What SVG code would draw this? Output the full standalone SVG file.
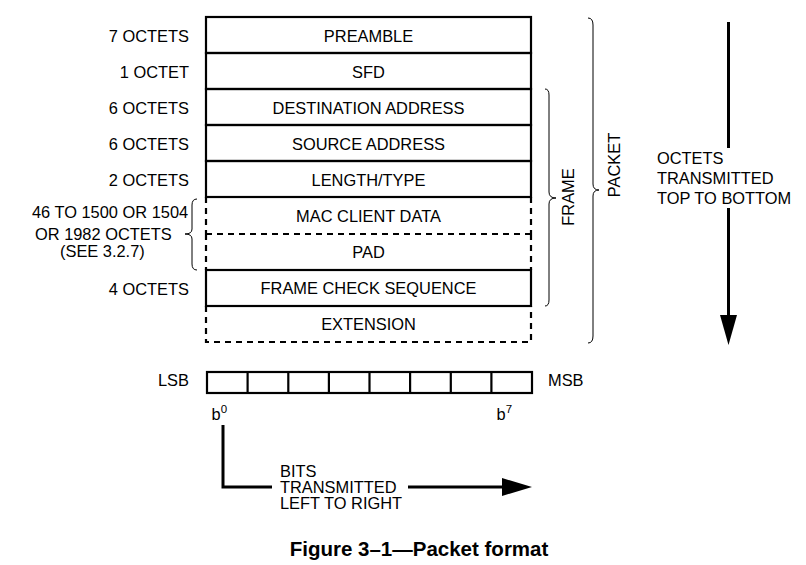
<svg xmlns="http://www.w3.org/2000/svg" width="806" height="565" viewBox="0 0 806 565">
<style>
text{font-family:"Liberation Sans",Arial,sans-serif;font-size:16.4px;fill:#000}
.c{text-anchor:middle}
.r{text-anchor:end}
.box{fill:none;stroke:#000;stroke-width:2.2}
.dash{fill:none;stroke:#000;stroke-width:2.2;stroke-dasharray:6 5}
.brace{fill:none;stroke:#000;stroke-width:1}
.arr{fill:none;stroke:#000;stroke-width:3}
.cap{font-weight:bold;font-size:20.5px}
</style>
<rect width="806" height="565" fill="#fff"/>
<g id="fields">
  <g id="preamble"><rect class="box" x="206" y="17" width="325" height="36"/><text class="c" x="368.5" y="42">PREAMBLE</text></g>
  <g id="sfd"><rect class="box" x="206" y="53" width="325" height="36"/><text class="c" x="368.5" y="78">SFD</text></g>
  <g id="dest"><rect class="box" x="206" y="89" width="325" height="36"/><text class="c" x="368.5" y="114">DESTINATION ADDRESS</text></g>
  <g id="src"><rect class="box" x="206" y="125" width="325" height="36"/><text class="c" x="368.5" y="150">SOURCE ADDRESS</text></g>
  <g id="lentype"><rect class="box" x="206" y="161" width="325" height="36"/><text class="c" x="368.5" y="186">LENGTH/TYPE</text></g>
  <g id="macdata"><path class="dash" d="M206,197 V234 M531,197 V234 M206,234 H531"/><text class="c" x="368.5" y="222">MAC CLIENT DATA</text></g>
  <g id="pad"><path class="dash" d="M206,234 V270 M531,234 V270"/><text class="c" x="368.5" y="258">PAD</text></g>
  <g id="fcs"><rect class="box" x="206" y="270" width="325" height="36"/><text class="c" x="368.5" y="294">FRAME CHECK SEQUENCE</text></g>
  <g id="ext"><path class="dash" d="M206,306 V342 H531 V306"/><text class="c" x="368.5" y="330">EXTENSION</text></g>
</g>
<g id="sizes">
  <text class="r" x="189" y="42">7 OCTETS</text>
  <text class="r" x="189" y="78">1 OCTET</text>
  <text class="r" x="189" y="114">6 OCTETS</text>
  <text class="r" x="189" y="150">6 OCTETS</text>
  <text class="r" x="189" y="186">2 OCTETS</text>
  <text x="32" y="218">46 TO 1500 OR 1504</text>
  <text x="35" y="240">OR 1982 OCTETS</text>
  <text x="60" y="257">(SEE 3.2.7)</text>
  <text class="r" x="189" y="295">4 OCTETS</text>
  <path class="brace" d="M197,199 Q192,199 192,205 L192,229 Q192,234 185,234 Q192,234 192,239 L192,264 Q192,270 197,270"/>
</g>
<g id="frame-brace">
  <path class="brace" d="M545,89 Q549,89 549,95 L549,192 Q549,198 556,198 Q549,198 549,204 L549,300 Q549,306 545,306"/>
  <text transform="translate(574,197) rotate(-90)" class="c">FRAME</text>
</g>
<g id="packet-brace">
  <path class="brace" d="M588,18 Q593,18 593,25 L593,184 Q593,190 599,190 Q593,190 593,196 L593,336 Q593,343 588,343"/>
  <text transform="translate(620,165) rotate(-90)" class="c">PACKET</text>
</g>
<g id="octet-order">
  <path class="arr" d="M728.5,22 V148 M728.5,208 V318"/>
  <path d="M720,315 H737 L728.5,345 Z" fill="#000"/>
  <text x="657" y="164">OCTETS</text>
  <text x="657" y="184">TRANSMITTED</text>
  <text x="657" y="204">TOP TO BOTTOM</text>
</g>
<g id="bits">
  <rect class="box" x="207" y="372" width="325" height="21"/>
  <path class="box" d="M247.6,372 V393 M288.3,372 V393 M328.9,372 V393 M369.5,372 V393 M410.1,372 V393 M450.8,372 V393 M491.4,372 V393"/>
  <text x="158" y="386">LSB</text>
  <text x="548" y="386">MSB</text>
  <text x="211.5" y="420">b<tspan font-size="11.5" dy="-7">0</tspan></text>
  <text x="496.5" y="420">b<tspan font-size="11.5" dy="-7">7</tspan></text>
</g>
<g id="connectors">
  <path class="arr" d="M223,425 V487 H272 M408,487 H504"/>
  <path d="M502,478 V496 L532,487 Z" fill="#000"/>
  <text x="280" y="477">BITS</text>
  <text x="280" y="493">TRANSMITTED</text>
  <text x="280" y="509">LEFT TO RIGHT</text>
</g>
<text class="c cap" x="419" y="556">Figure 3–1—Packet format</text>
</svg>
